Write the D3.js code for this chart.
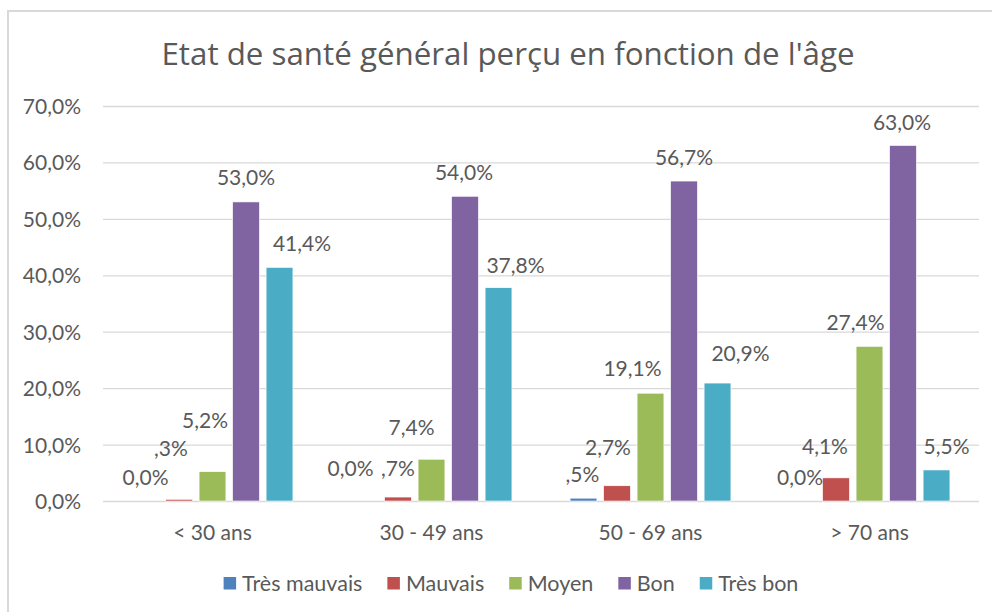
<!DOCTYPE html>
<html>
<head>
<meta charset="utf-8">
<script src="https://cdn.jsdelivr.net/npm/d3@7"></script>
<style>
  html, body { margin: 0; padding: 0; background: #fff; }
  svg { display: block; }
  text { font-family: Lato, "Open Sans", sans-serif; fill: #595959; }
</style>
</head>
<body>
<svg id="chart" width="992" height="612"></svg>
<script>
// ---- data ----
const title = "Etat de santé général perçu en fonction de l'âge";
const categories = ["< 30 ans", "30 - 49 ans", "50 - 69 ans", "> 70 ans"];
const seriesNames = ["Très mauvais", "Mauvais", "Moyen", "Bon", "Très bon"];
const tresMauvais = [0.0, 0.0, 0.5, 0.0];
const mauvais     = [0.3, 0.7, 2.7, 4.1];
const moyen       = [5.2, 7.4, 19.1, 27.4];
const bon         = [53.0, 54.0, 56.7, 63.0];
const tresBon     = [41.4, 37.8, 20.9, 5.5];
const yTicks = [0, 10, 20, 30, 40, 50, 60, 70];

// ---- style / layout ----
const colors = ["#4f81bd", "#c0504d", "#9bbb59", "#8064a2", "#4bacc6"];
// manual label nudges [dx, dy] per series, per category (as in the original)
const labelNudge = [
  [[0, 0], [-14, -9], [-1, 0], [-2.5, 0]],
  [[-8, -27], [0, -5], [-9, -15], [-11, -8]],
  [[-7.5, -28], [-20, -8.5], [-18, -1], [-14, 0]],
  [[0, -1], [-1, 0], [0, 0], [-1, 0]],
  [[22.5, 0], [17, 1], [23, -6], [10, 0]]
];

const seriesValues = [tresMauvais, mauvais, moyen, bon, tresBon];
const rows = categories.map((c, i) => ({
  cat: c,
  vals: seriesNames.map((s, j) => ({ s, j, i, v: seriesValues[j][i] }))
}));

const svg = d3.select("#chart");
const fs = 21;
const capH = fs * 0.72;

// chart frame
svg.append("rect").attr("x", 0).attr("y", 0).attr("width", 992).attr("height", 612).attr("fill", "#fff");
svg.append("rect").attr("x", 8).attr("y", 11).attr("width", 1100).attr("height", 700)
  .attr("fill", "none").attr("stroke", "#d9d9d9").attr("stroke-width", 2);

const x0 = d3.scaleBand().domain(categories).range([103, 979]).paddingInner(0.235).paddingOuter(0.1175);
const x1 = d3.scaleBand().domain(seriesNames).range([0, x0.bandwidth()]).paddingInner(0.2).paddingOuter(0.1);
const y = d3.scaleLinear().domain([0, 70]).range([501, 106]);

// gridlines
const yAxis = d3.axisLeft(y).tickValues(yTicks).tickSize(-(979 - 103)).tickFormat(d => d.toFixed(1).replace(".", ",") + "%");
const gy = svg.append("g").attr("transform", "translate(103,0)").call(yAxis);
gy.select(".domain").remove();
gy.selectAll(".tick line").attr("stroke", "#d9d9d9").attr("stroke-width", 1.3);
gy.selectAll(".tick text").attr("x", -22).attr("dy", null).attr("dominant-baseline", null)
  .attr("y", capH / 2).style("font-size", fs + "px").attr("fill", "#595959").attr("font-family", null);

// x axis labels
const xAxis = d3.axisBottom(x0).tickSize(0);
const gx = svg.append("g").attr("transform", "translate(0,501)").call(xAxis);
gx.select(".domain").remove();
gx.selectAll(".tick text").attr("y", 31 + capH / 2).attr("dy", null)
  .style("font-size", fs + "px").attr("fill", "#595959").attr("font-family", null);

// bars
const groups = svg.append("g").selectAll("g").data(rows).join("g")
  .attr("transform", d => `translate(${x0(d.cat)},0)`);
groups.selectAll("rect").data(d => d.vals).join("rect")
  .attr("x", d => x1(d.s))
  .attr("width", x1.bandwidth())
  .attr("y", d => y(d.v))
  .attr("height", d => y(0) - y(d.v))
  .attr("fill", d => colors[d.j])
  .attr("stroke", "#ffffff").attr("stroke-width", 0.6);

// data labels
function fmt(v) {
  let s = v.toFixed(1).replace(".", ",");
  if (v > 0 && v < 1) s = s.replace(/^0/, "");
  return s + "%";
}
groups.selectAll("text.lbl").data(d => d.vals).join("text")
  .attr("class", "lbl")
  .attr("text-anchor", "middle")
  .attr("x", d => x1(d.s) + x1.bandwidth() / 2 + labelNudge[d.j][d.i][0])
  .attr("y", d => y(d.v) - 23.5 + labelNudge[d.j][d.i][1] + capH / 2)
  .style("font-size", fs + "px")
  .text(d => fmt(d.v));

// title
svg.append("text").attr("x", 508).attr("y", 65).attr("text-anchor", "middle")
  .style("font-family", "'Open Sans', Lato, sans-serif")
  .style("font-size", "31.3px").text(title);

// legend
const leg = svg.append("g");
const items = leg.selectAll("g").data(seriesNames).join("g");
items.append("rect").attr("width", 12.5).attr("height", 12.5).attr("y", 577)
  .attr("fill", (d, i) => colors[i]);
items.append("text").attr("x", 18.5).attr("y", 583 + 7.5).style("font-size", "21.5px").text(d => d);
let cx = 0;
const widths = [];
items.each(function () {
  const w = d3.select(this).select("text").node().getComputedTextLength();
  widths.push(18.5 + w);
});
const total = d3.sum(widths) + 25 * (widths.length - 1);
cx = 511 - total / 2;
items.each(function (d, i) {
  d3.select(this).attr("transform", `translate(${cx},0)`);
  cx += widths[i] + 25;
});
</script>
</body>
</html>
